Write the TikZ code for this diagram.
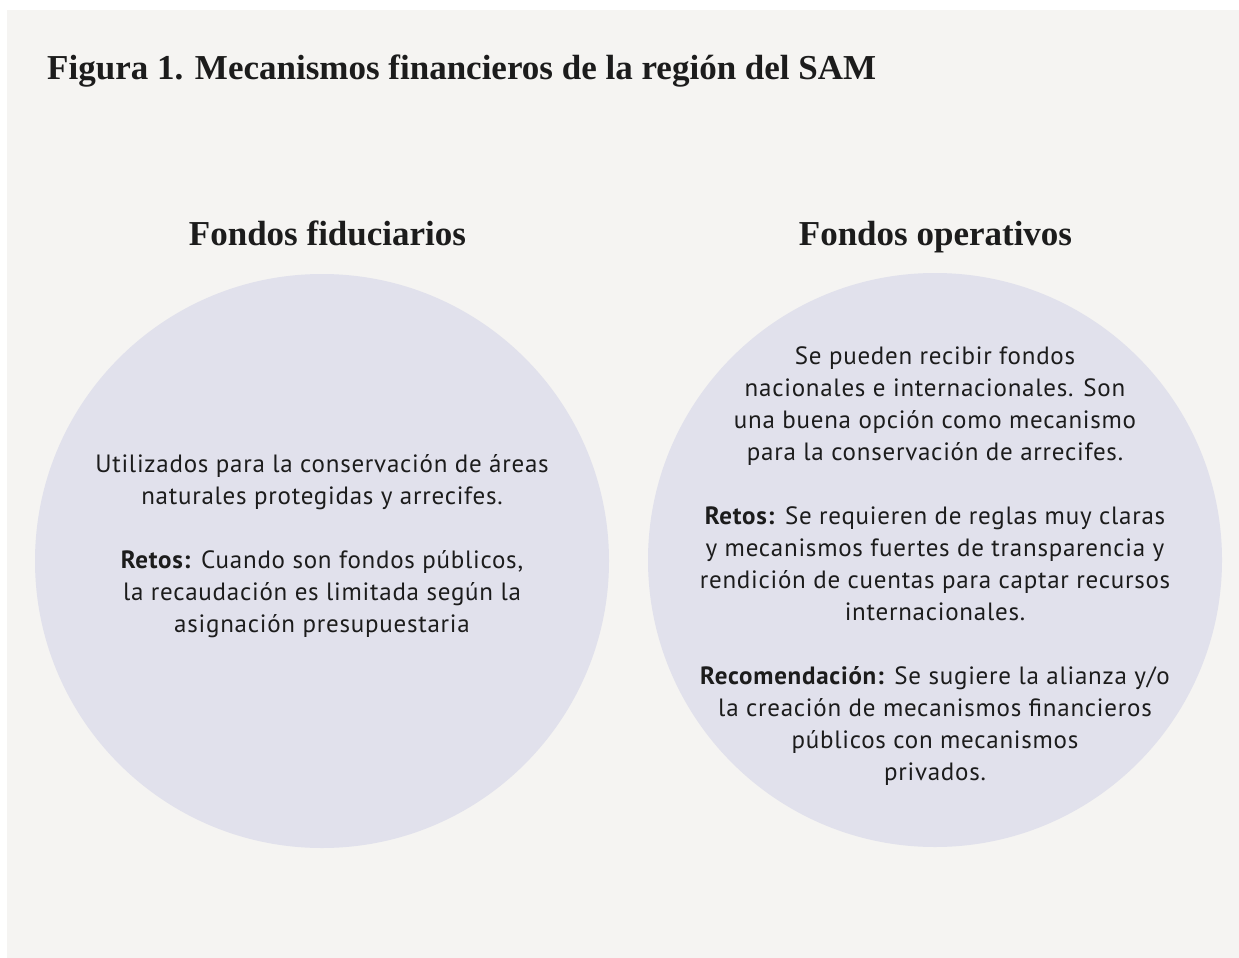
\documentclass[tikz,border=0pt]{standalone}
\usepackage{fontspec}
\setmainfont[LetterSpace=3]{PT Sans}
\newfontfamily\titlefont{Liberation Serif}
\usetikzlibrary{positioning}
\definecolor{paper}{HTML}{F5F4F2}
\definecolor{disc}{HTML}{E1E1EC}
\definecolor{ink}{HTML}{1C1C1C}
\tikzset{
  fondo/.style={circle, fill=disc, minimum size=574pt, inner sep=0pt},
  cuerpo/.style={align=center, font=\fontsize{25}{32}\selectfont, text=ink, inner sep=0pt},
  encabezado/.style={font=\titlefont\bfseries\fontsize{35}{40}\selectfont, text=ink, inner sep=0pt, anchor=base},
}
\begin{document}
\begin{tikzpicture}[x=1pt,y=-1pt]
      %draw background
      \useasboundingbox (0,0) rectangle (1239,958);
      \fill[white] (0,0) rectangle (1239,958);
      \fill[paper] (7,10) rectangle (1239,958);

      %draw title
      \node[encabezado, anchor=base west] (titulo) at (47,79) {Figura 1. Mecanismos financieros de la región del SAM};

      %draw circles
      \node[fondo] (fiduciarios) at (322,561) {};
      \node[fondo] (operativos) at (935,560) {};

      % headings
      \node[encabezado] (tfid) at (327.5,245) {Fondos fiduciarios};
      \node[encabezado] (tope) at (935.5,245) {Fondos operativos};

      % texts
      \node[cuerpo] (txtfid) at ([yshift=15]fiduciarios.center) {%
        Utilizados para la conservación de áreas\\
        naturales protegidas y arrecifes.\\[32pt]
        \textbf{Retos:} Cuando son fondos públicos,\\
        la recaudación es limitada según la\\
        asignación presupuestaria};
      \node[cuerpo] (txtope) at ([yshift=-6]operativos.center) {%
        Se pueden recibir fondos\\
        nacionales e internacionales. Son\\
        una buena opción como mecanismo\\
        para la conservación de arrecifes.\\[32pt]
        \textbf{Retos:} Se requieren de reglas muy claras\\
        y mecanismos fuertes de transparencia y\\
        rendición de cuentas para captar recursos\\
        internacionales.\\[32pt]
        \textbf{Recomendación:} Se sugiere la alianza y/o\\
        la creación de mecanismos financieros\\
        públicos con mecanismos\\
        privados.};
\end{tikzpicture}
\end{document}
